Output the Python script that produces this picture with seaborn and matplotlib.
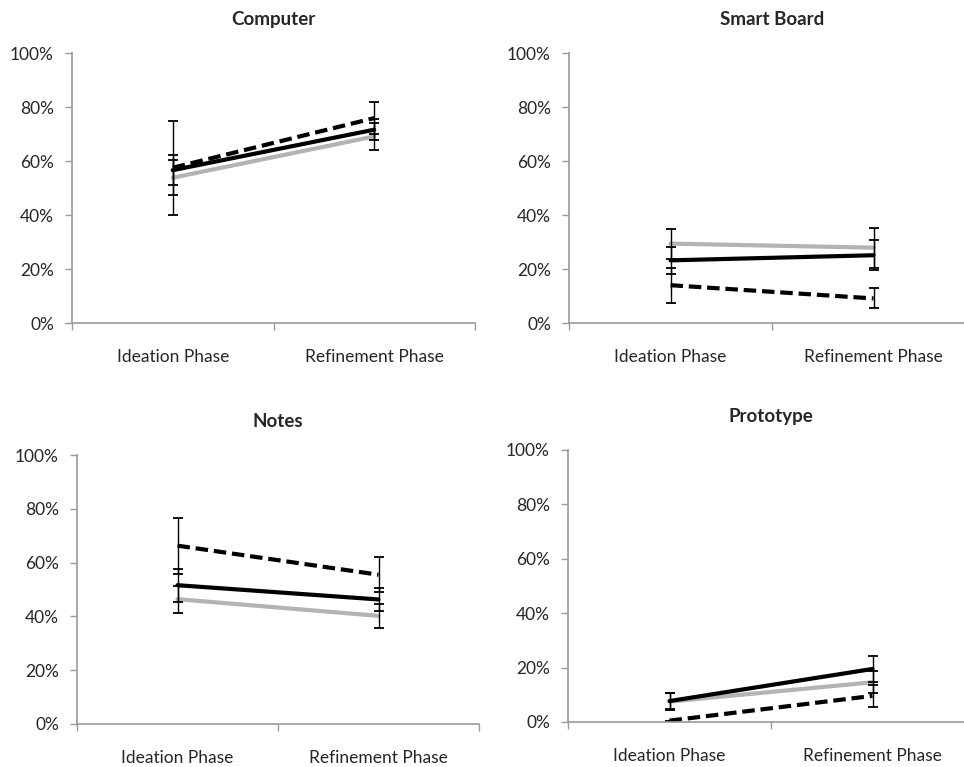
import numpy as np
import pandas as pd
import seaborn as sns
import matplotlib.pyplot as plt
from matplotlib.ticker import FixedLocator, PercentFormatter

phases = ['Ideation Phase', 'Refinement Phase']
panels = ['Computer', 'Smart Board', 'Notes', 'Prototype']
series = ['Group A', 'Group B', 'Group C']  # gray, solid black, dashed

# mean values in % (Ideation, Refinement) per panel
group_a = {'Computer': [53.8, 69.1], 'Smart Board': [29.4, 27.9],
           'Notes': [46.4, 40.2], 'Prototype': [7.5, 14.6]}
group_b = {'Computer': [56.6, 71.6], 'Smart Board': [23.2, 25.1],
           'Notes': [51.6, 46.3], 'Prototype': [7.7, 19.5]}
group_c = {'Computer': [57.5, 75.9], 'Smart Board': [14.0, 9.1],
           'Notes': [66.3, 55.5], 'Prototype': [0.5, 9.6]}

# error bar half-widths in %
err_a = {'Computer': [6.5, 5.0], 'Smart Board': [5.6, 7.4],
         'Notes': [5.0, 4.5], 'Prototype': [3.0, 4.0]}
err_b = {'Computer': [5.5, 4.0], 'Smart Board': [5.0, 5.5],
         'Notes': [6.1, 4.4], 'Prototype': [3.0, 4.8]}
err_c = {'Computer': [17.5, 6.0], 'Smart Board': [6.5, 3.7],
         'Notes': [10.4, 6.5], 'Prototype': [0.0, 4.0]}


def build_frame():
    rows = []
    for name, vals, errs in zip(series, [group_a, group_b, group_c], [err_a, err_b, err_c]):
        for panel in panels:
            for i, phase in enumerate(phases):
                rows.append({'panel': panel, 'phase': phase, 'series': name,
                             'value': vals[panel][i], 'err': errs[panel][i]})
    return pd.DataFrame(rows)


def main():
    sns.set_theme(style='white')
    plt.rcParams['font.family'] = ['Lato', 'DejaVu Sans']

    df = build_frame()
    fig = plt.figure(figsize=(9.64, 7.67), dpi=100)

    # axes rectangles (pixels: left, top, right, bottom)
    W, H = 964, 767
    boxes = {
        'Computer': (72, 53, 475, 323),
        'Smart Board': (569, 53, 975, 323),
        'Notes': (77, 455, 479, 724),
        'Prototype': (568, 450, 974, 722),
    }

    palette = {'Group A': '#b3b3b3', 'Group B': 'black', 'Group C': 'black'}
    dashes = {'Group A': '', 'Group B': '', 'Group C': (3, 1.4)}

    for panel in panels:
        l, t, r, b = boxes[panel]
        ax = fig.add_axes([l / W, 1 - b / H, (r - l) / W, (b - t) / H])
        sub = df[df['panel'] == panel]

        sns.lineplot(data=sub, x='phase', y='value', hue='series', style='series',
                     palette=palette, dashes=dashes, linewidth=3, legend=False,
                     sort=False, ax=ax)

        for name in series:
            s = sub[sub['series'] == name]
            ax.errorbar(s['phase'], s['value'], yerr=s['err'], fmt='none',
                        ecolor='black', elinewidth=1, capsize=3.5, capthick=1.3)

        ax.set_xlim(-0.5, 1.5)
        ax.set_ylim(0, 100)
        ax.set_xlabel('')
        ax.set_ylabel('')
        ax.yaxis.set_major_locator(FixedLocator(np.arange(0, 101, 20)))
        ax.yaxis.set_major_formatter(PercentFormatter(decimals=0))
        ax.set_xticks([0, 1])
        ax.set_xticklabels(phases)
        ax.xaxis.set_minor_locator(FixedLocator([-0.5, 0.5, 1.5]))
        ax.tick_params(axis='x', which='major', length=0, pad=19, labelsize=12.5)
        ax.tick_params(axis='x', which='minor', length=5, width=1, color='#999999',
                       direction='out', bottom=True)
        ax.tick_params(axis='y', length=5, width=1, color='#999999', direction='out',
                       left=True, pad=8, labelsize=12.5)

        for side in ['top', 'right']:
            ax.spines[side].set_visible(False)
        for side in ['left', 'bottom']:
            ax.spines[side].set_color('#999999')
            ax.spines[side].set_linewidth(1.2)

        ax.set_title(panel, fontsize=13.5, fontweight='bold', pad=20)

    fig.savefig('out.png', dpi=100)


if __name__ == "__main__":
    main()
